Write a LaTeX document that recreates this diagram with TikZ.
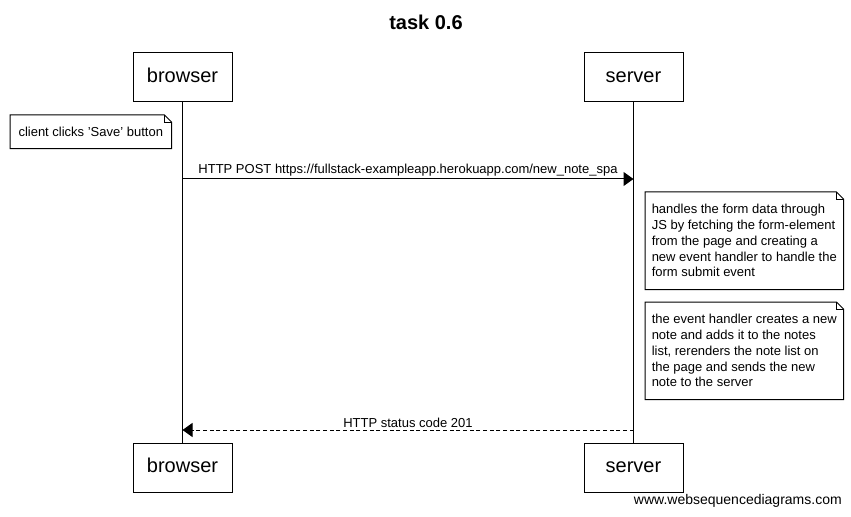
\documentclass[tikz,border=0pt]{standalone}
\usepackage{fontspec}
\setmainfont{Liberation Sans}
\usetikzlibrary{calc,arrows.meta,positioning}

\tikzset{
  actor/.style={draw, line width=0.75pt, minimum width=74.25pt, minimum height=36.75pt,
    inner sep=0pt, text height=10.8pt, text depth=3.2pt, font=\fontsize{15}{18}\selectfont},
  note/.style={anchor=north west, inner xsep=4.5pt, inner ysep=0pt, align=left,
    font=\fontsize{9.75}{11.8}\selectfont},
  lifeline/.style={line width=0.75pt},
  msg/.style={line width=0.75pt, -{Triangle[length=7.5pt,width=10.5pt]}},
  reply/.style={msg, dash pattern=on 3pt off 2pt},
  msglabel/.style={font=\fontsize{9.75}{11.8}\selectfont, inner sep=1.5pt}
}
% umrandung einer notiz mit eselsohr
\newcommand\notefold[1]{%
  \draw[line width=0.75pt] (#1.north west) -- ($(#1.north east)+(-7,0)$)
    -- ($(#1.north east)+(0,7)$) -- (#1.south east) -- (#1.south west) -- cycle;
  \draw[line width=0.5pt] ($(#1.north east)+(-7,0)$) |- ($(#1.north east)+(0,7)$);
}

\begin{document}
\begin{tikzpicture}[x=0.75pt,y=-0.75pt]
  \useasboundingbox (0,0) rectangle (851,517);

  % titel
  \node[font=\fontsize{15}{18}\selectfont\bfseries] (title) at (426,22) {task 0.6};

  % teilnehmer oben und unten
  \node[actor] (b1) at (182.5,77.5) {browser};
  \node[actor] (s1) at (633.5,77.5) {server};
  \node[actor] (b2) at (182.5,467.5) {browser};
  \node[actor] (s2) at (633.5,467.5) {server};

  \draw[lifeline] (b1.south) -- (b2.north);
  \draw[lifeline] (s1.south) -- (s2.north);

  % notiz links
  \node[note, minimum width=120.75pt, minimum height=24.75pt] (click) at (10,115)
    {client clicks 'Save' button};
  \notefold{click}

  % anfrage
  \coordinate (postA) at (182.5,179);
  \coordinate (postB) at (633.5,179);
  \draw[msg] (postA) -- node[msglabel, above] {HTTP POST https://fullstack-exampleapp.herokuapp.com/new\_note\_spa} (postB);

  % notizen beim server
  \node[note, minimum width=148.5pt, minimum height=72.75pt] (handler) at (645,192)
    {handles the form data through\\ JS by fetching the form-element\\ from the page and creating a\\ new event handler to handle the\\ form submit event};
  \notefold{handler}

  \node[note, minimum width=148.5pt, minimum height=72.75pt] (rerender) at (645,302)
    {the event handler creates a new\\ note and adds it to the notes\\ list, rerenders the note list on\\ the page and sends the new\\ note to the server};
  \notefold{rerender}

  % antwort
  \coordinate (ansA) at (633.5,430);
  \coordinate (ansB) at (182.5,430);
  \draw[reply] (ansA) -- node[msglabel, above] {HTTP status code 201} (ansB);

  \node[anchor=east, inner sep=0pt, font=\fontsize{10.5}{12}\selectfont] (footer) at (842,501)
    {www.websequencediagrams.com};
\end{tikzpicture}
\end{document}
